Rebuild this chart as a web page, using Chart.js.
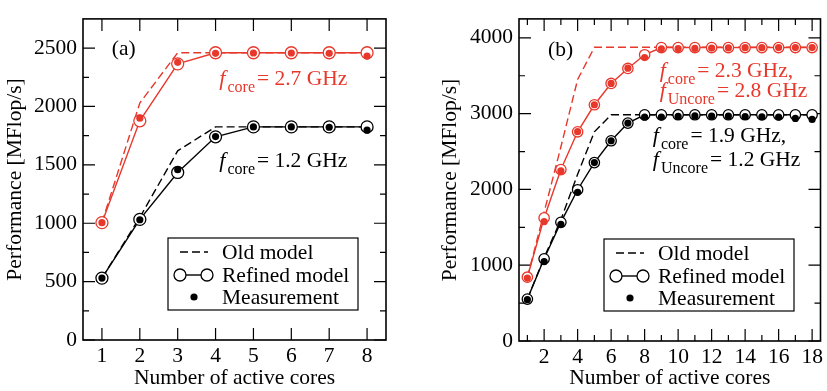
<!DOCTYPE html>
<html lang="en">
<head>
  <meta charset="UTF-8" />
  <title>Performance vs. number of active cores</title>
  <script src="https://cdn.jsdelivr.net/npm/chart.js"></script>
  <style>
    * { margin: 0; padding: 0; box-sizing: border-box; }
    body { width: 827px; height: 391px; background: #fff; position: relative; overflow: hidden; }
    canvas { position: absolute; top: 0; }
    #chartA { left: 0; }
    #chartB { left: 435px; }
  </style>
</head>
<body>
  <canvas id="chartA" width="435" height="391"></canvas>
  <canvas id="chartB" width="392" height="391"></canvas>

  <script>
    // ---- panel (a) ----
    const coresA = [1, 2, 3, 4, 5, 6, 7, 8];
    const oldA27 = [1005, 2030, 2460, 2460, 2460, 2460, 2460, 2460];
    const refA27 = [1005, 1877, 2365, 2460, 2460, 2460, 2460, 2460];
    const measA27 = [1005, 1900, 2378, 2455, 2458, 2458, 2455, 2432];
    const oldA12 = [530, 1050, 1620, 1825, 1825, 1825, 1825, 1825];
    const refA12 = [530, 1033, 1435, 1740, 1825, 1825, 1825, 1825];
    const measA12 = [530, 1030, 1458, 1742, 1825, 1825, 1822, 1797];
    const xTicksA = [1, 2, 3, 4, 5, 6, 7, 8];
    const yTicksA = [0, 500, 1000, 1500, 2000, 2500];
    const yMinorA = [250, 750, 1250, 1750, 2250];

    // ---- panel (b) ----
    const coresB = [1, 2, 3, 4, 5, 6, 7, 8, 9, 10, 11, 12, 13, 14, 15, 16, 17, 18];
    const oldB23 = [840, 1700, 2560, 3450, 3875, 3875, 3875, 3875, 3875, 3875, 3875, 3875, 3875, 3875, 3875, 3875, 3875, 3875];
    const refB23 = [842, 1624, 2262, 2760, 3117, 3398, 3596, 3777, 3872, 3872, 3872, 3872, 3872, 3872, 3872, 3872, 3872, 3872];
    const measB23 = [830, 1575, 2245, 2762, 3117, 3398, 3600, 3740, 3855, 3858, 3860, 3865, 3868, 3870, 3870, 3872, 3872, 3872];
    const oldB19 = [553, 1100, 1600, 2200, 2760, 2985, 2985, 2985, 2985, 2985, 2985, 2985, 2985, 2985, 2985, 2985, 2985, 2985];
    const refB19 = [553, 1085, 1566, 1996, 2354, 2642, 2875, 2985, 2985, 2985, 2985, 2985, 2985, 2985, 2985, 2985, 2985, 2985];
    const measB19 = [545, 1047, 1540, 1962, 2354, 2642, 2875, 2953, 2955, 2965, 2970, 2968, 2968, 2962, 2958, 2955, 2937, 2924];
    const xTicksB = [2, 4, 6, 8, 10, 12, 14, 16, 18];
    const xMinorB = [1, 3, 5, 7, 9, 11, 13, 15, 17];
    const yTicksB = [0, 1000, 2000, 3000, 4000];
    const yMinorB = [500, 1500, 2500, 3500];

    const legendNames = ['Old model', 'Refined model', 'Measurement'];

    const RED = '#e8382c';
    const BLACK = '#000';
    const FONT = "'Liberation Serif', 'Times New Roman', serif";

    Chart.defaults.font.family = FONT;
    Chart.defaults.font.size = 21.5;
    Chart.defaults.color = '#000';

    function pts(xs, ys) {
      return xs.map((x, i) => ({ x: x, y: ys[i] }));
    }

    function seriesSets(xs, oldVals, refVals, measVals, color, circleR) {
      return [
        {
          label: 'Measurement', data: pts(xs, measVals), showLine: false,
          pointRadius: 3.6, pointBackgroundColor: color, pointBorderColor: color, pointBorderWidth: 0, order: 0
        },
        {
          label: 'Refined model', data: pts(xs, refVals), borderColor: color, borderWidth: 1.4,
          pointRadius: circleR, pointBackgroundColor: '#fff', pointBorderColor: color, pointBorderWidth: 1.3, order: 1
        },
        {
          label: 'Old model', data: pts(xs, oldVals), borderColor: color, borderWidth: 1.4,
          borderDash: [8, 4], pointRadius: 0, order: 2
        }
      ];
    }

    // frame on all four sides with inward ticks
    const frameTicks = {
      id: 'frameTicks',
      beforeDatasetsDraw(chart, args, o) {
        const { ctx, chartArea: a, scales: { x, y } } = chart;
        ctx.save();
        ctx.strokeStyle = '#000';
        ctx.lineWidth = 1.2;
        const mark = (vals, len, isX) => {
          vals.forEach(v => {
            ctx.beginPath();
            if (isX) {
              const px = x.getPixelForValue(v);
              ctx.moveTo(px, a.bottom); ctx.lineTo(px, a.bottom - len);
              ctx.moveTo(px, a.top); ctx.lineTo(px, a.top + len);
            } else {
              const py = y.getPixelForValue(v);
              ctx.moveTo(a.left, py); ctx.lineTo(a.left + len, py);
              ctx.moveTo(a.right, py); ctx.lineTo(a.right - len, py);
            }
            ctx.stroke();
          });
        };
        mark(o.xMajor, 12, true);
        mark(o.xMinor, 6, true);
        mark(o.yMajor, 12, false);
        mark(o.yMinor, 6, false);
        ctx.lineWidth = 1.6;
        ctx.strokeRect(a.left, a.top, a.right - a.left, a.bottom - a.top);
        ctx.restore();
      }
    };

    // text annotations placed in data coordinates
    const notes = {
      id: 'notes',
      afterDatasetsDraw(chart, args, o) {
        const { ctx, scales: { x, y } } = chart;
        ctx.save();
        ctx.textBaseline = 'alphabetic';
        o.items.forEach(it => {
          let px = x.getPixelForValue(it.x);
          const py = y.getPixelForValue(it.y);
          ctx.fillStyle = it.color;
          it.parts.forEach(p => {
            if (p.sub) ctx.font = '16px ' + FONT;
            else if (p.it) ctx.font = 'italic 22px ' + FONT;
            else ctx.font = '21.5px ' + FONT;
            ctx.fillText(p.t, px, py + (p.sub ? 7 : 0));
            px += ctx.measureText(p.t).width + (p.gap || 0);
          });
        });
        ctx.restore();
      }
    };

    // custom legend box (line + circles sample for the refined model)
    const legendBox = {
      id: 'legendBox',
      afterDraw(chart) {
        const { ctx, chartArea: a } = chart;
        const left = a.left + 85, top = a.bottom - 102, w = 190, h = 72;
        ctx.save();
        ctx.fillStyle = '#fff';
        ctx.fillRect(left, top, w, h);
        ctx.strokeStyle = '#000';
        ctx.lineWidth = 1.2;
        ctx.strokeRect(left, top, w, h);
        const rows = [top + 14, top + 37, top + 59];
        // old model
        ctx.lineWidth = 1.4;
        ctx.setLineDash([8, 4]);
        ctx.beginPath(); ctx.moveTo(left + 12, rows[0]); ctx.lineTo(left + 40, rows[0]); ctx.stroke();
        ctx.setLineDash([]);
        // refined model
        ctx.beginPath(); ctx.moveTo(left + 12, rows[1]); ctx.lineTo(left + 39, rows[1]); ctx.stroke();
        [left + 12, left + 39].forEach(cx => {
          ctx.beginPath(); ctx.arc(cx, rows[1], 6, 0, Math.PI * 2);
          ctx.fillStyle = '#fff'; ctx.fill(); ctx.lineWidth = 1.3; ctx.stroke();
        });
        // measurement
        ctx.beginPath(); ctx.arc(left + 26, rows[2], 3.6, 0, Math.PI * 2);
        ctx.fillStyle = '#000'; ctx.fill();
        ctx.font = '21.5px ' + FONT;
        ctx.textBaseline = 'middle';
        legendNames.forEach((n, i) => ctx.fillText(n, left + 54, rows[i] + 1));
        ctx.restore();
      }
    };

    function fLabel(sub, rest) {
      return [{ t: 'f', it: true, gap: 2 }, { t: sub, sub: true, gap: 2 }, { t: rest }];
    }

    function makeChart(id, o) {
      return new Chart(document.getElementById(id), {
        type: 'line',
        data: { datasets: o.datasets },
        options: {
          responsive: false,
          animation: false,
          devicePixelRatio: 1,
          layout: { padding: o.padding },
          plugins: {
            legend: { display: false },
            tooltip: { enabled: false },
            frameTicks: { xMajor: o.xTicks, xMinor: o.xMinor, yMajor: o.yTicks, yMinor: o.yMinor },
            notes: { items: o.notes }
          },
          scales: {
            x: {
              type: 'linear', min: 0.5, max: o.xMax,
              afterBuildTicks: s => { s.ticks = o.xTicks.map(v => ({ value: v })); },
              afterFit: s => { s.height = o.xAxisH; },
              grid: { display: false, drawTicks: false },
              border: { display: false },
              ticks: { padding: 3, maxRotation: 0, autoSkip: false, callback: v => String(v) },
              title: { display: true, text: 'Number of active cores', padding: { top: 0, bottom: 0 } }
            },
            y: {
              type: 'linear', min: 0, max: o.yMax,
              afterBuildTicks: s => { s.ticks = o.yTicks.map(v => ({ value: v })); },
              afterFit: s => { s.width = o.yAxisW; },
              grid: { display: false, drawTicks: false },
              border: { display: false },
              ticks: { padding: 6, callback: v => String(v) },
              title: { display: true, text: 'Performance [MFlop/s]', padding: { top: 2, bottom: 0 } }
            }
          }
        },
        plugins: [frameTicks, notes, legendBox]
      });
    }

    makeChart('chartA', {
      datasets: [
        ...seriesSets(coresA, oldA27, refA27, measA27, RED, 6),
        ...seriesSets(coresA, oldA12, refA12, measA12, BLACK, 6)
      ],
      xMax: 8.5, yMax: 2750,
      xTicks: xTicksA, xMinor: [], yTicks: yTicksA, yMinor: yMinorA,
      padding: { left: 0, right: 49, top: 4, bottom: 0 },
      xAxisH: 51, yAxisW: 83,
      notes: [
        { x: 1.26, y: 2443, color: BLACK, parts: [{ t: '(a)' }] },
        { x: 4.1, y: 2180, color: RED, parts: fLabel('core', '= 2.7 GHz') },
        { x: 4.1, y: 1484, color: BLACK, parts: fLabel('core', '= 1.2 GHz') }
      ]
    });

    makeChart('chartB', {
      datasets: [
        ...seriesSets(coresB, oldB23, refB23, measB23, RED, 5.2),
        ...seriesSets(coresB, oldB19, refB19, measB19, BLACK, 5.2)
      ],
      xMax: 18.5, yMax: 4250,
      xTicks: xTicksB, xMinor: xMinorB, yTicks: yTicksB, yMinor: yMinorB,
      padding: { left: 0, right: 6, top: 4, bottom: 0 },
      xAxisH: 50, yAxisW: 84,
      notes: [
        { x: 2.23, y: 3760, color: BLACK, parts: [{ t: '(b)' }] },
        { x: 8.9, y: 3483, color: RED, parts: fLabel('core', '= 2.3 GHz,') },
        { x: 8.9, y: 3218, color: RED, parts: fLabel('Uncore', '= 2.8 GHz') },
        { x: 8.49, y: 2625, color: BLACK, parts: fLabel('core', '= 1.9 GHz,') },
        { x: 8.49, y: 2309, color: BLACK, parts: fLabel('Uncore', '= 1.2 GHz') }
      ]
    });
  </script>
</body>
</html>
